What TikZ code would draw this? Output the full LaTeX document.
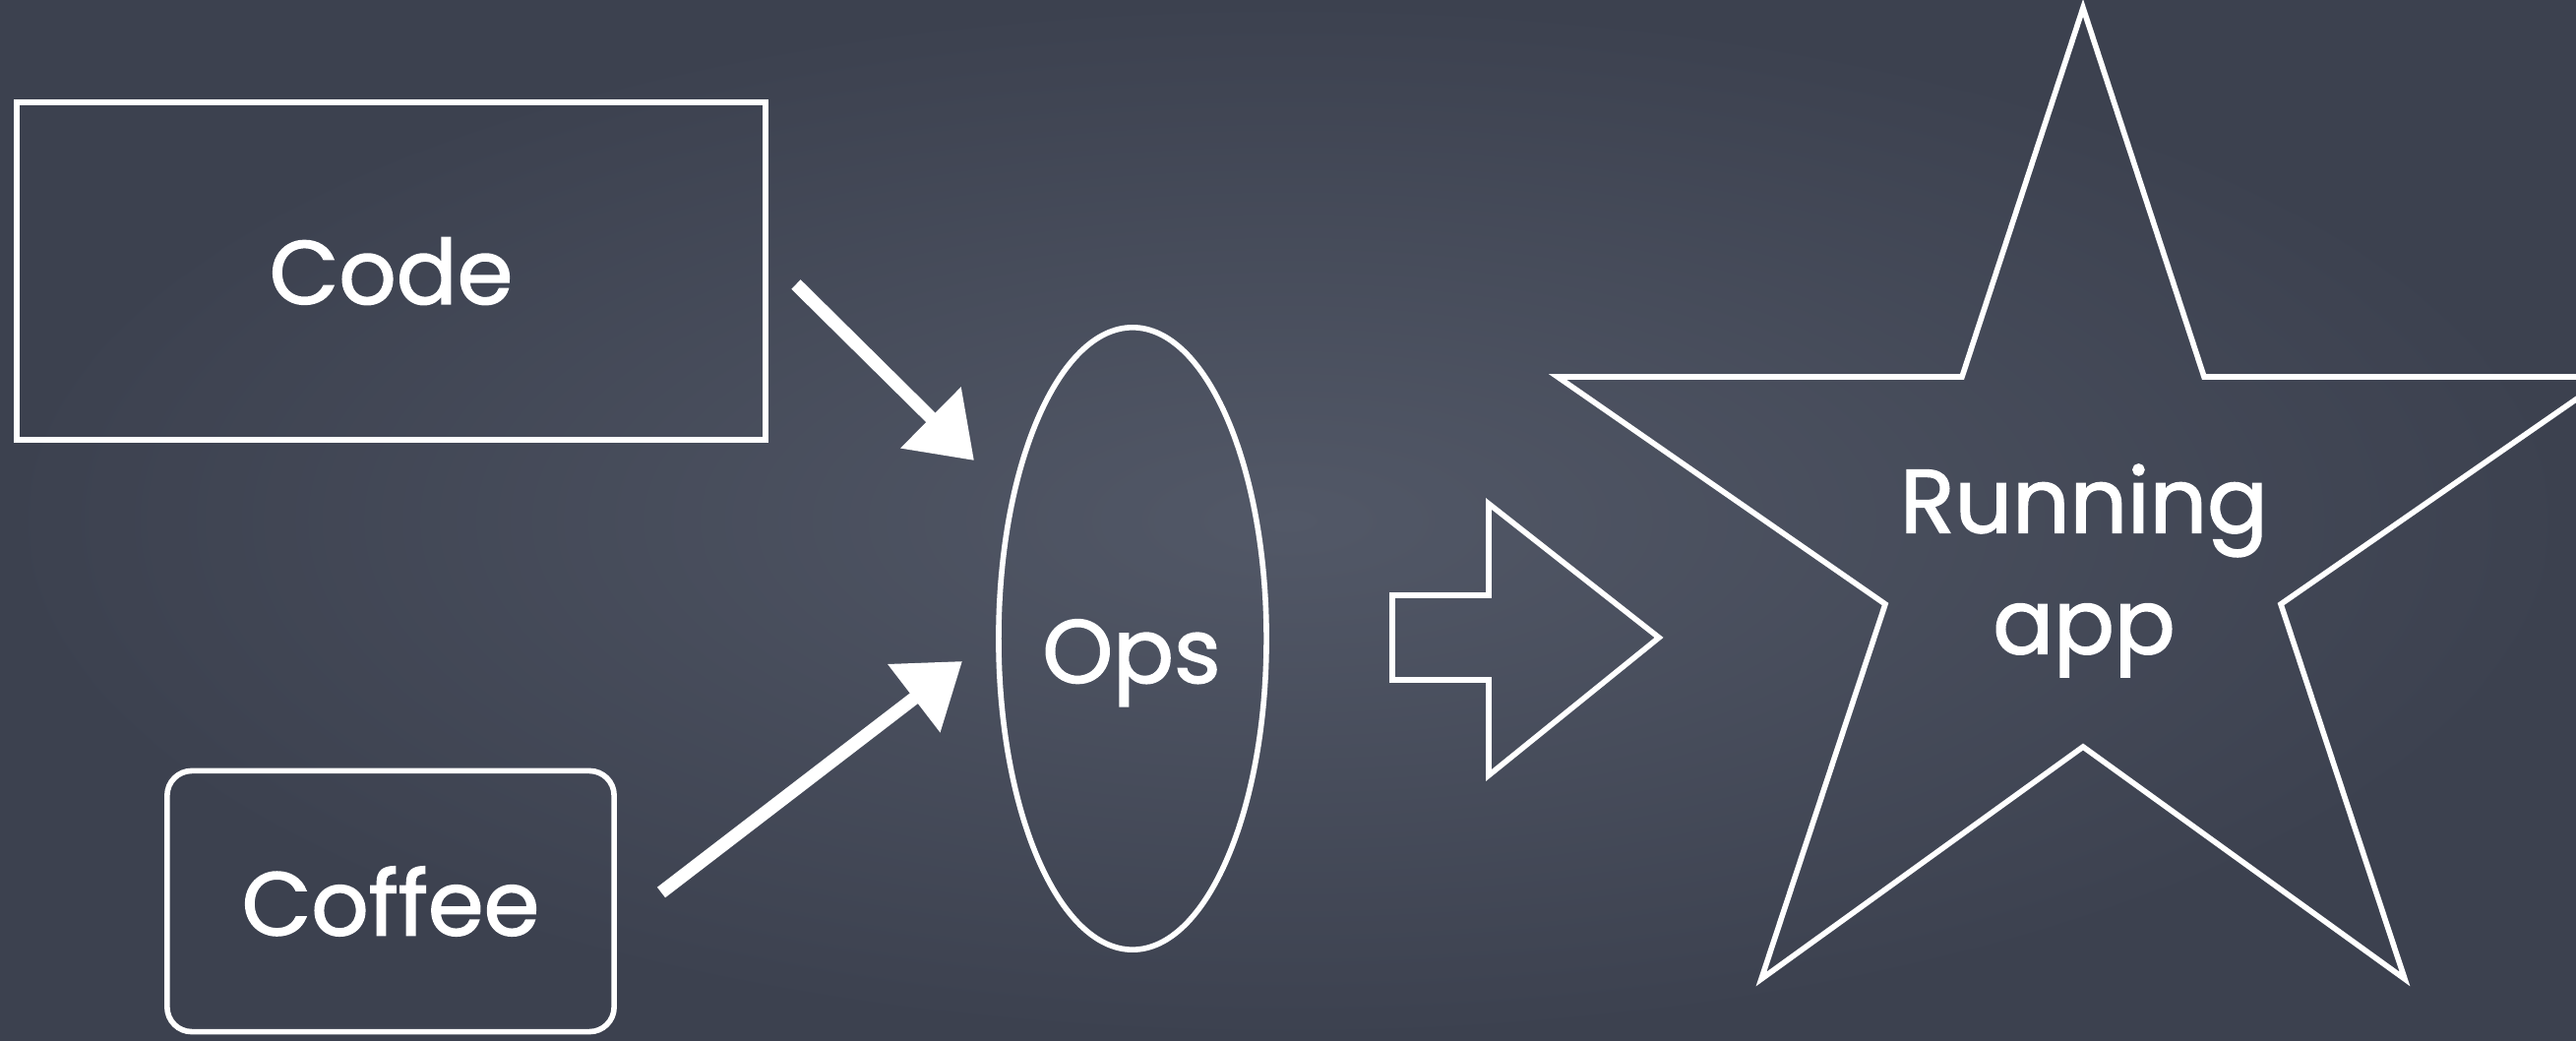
\documentclass[tikz,border=0pt]{standalone}
\usepackage{fontspec}
\setmainfont{Poppins}
\newfontfamily\chalkfont{Poppins}[FakeBold=1.6]
\usetikzlibrary{shapes.geometric, arrows.meta}
\definecolor{bgin}{RGB}{82,88,103}
\definecolor{bgout}{RGB}{60,65,79}
\begin{document}
\begin{tikzpicture}[x=0.01cm, y=-0.01cm,
  chalk/.style={draw=white, line width=1.6pt},
  lbl/.style={text=white, font=\chalkfont\fontsize{26}{35}\selectfont, inner sep=0pt},
  chalkarrow/.style={draw=white, line width=3.8pt, -{Triangle[width=0.84cm, length=0.62cm]}},
]
\useasboundingbox (0,0) rectangle (2618,1058);
\clip (0,0) rectangle (2618,1058);
\shade[inner color=bgin, outer color=bgout] (0,0) rectangle (2618,1058);

% boxes
\node[chalk, rectangle, minimum width=7.61cm, minimum height=3.43cm, lbl] (code) at (397.5,275.5) {Code};
\node[chalk, rectangle, rounded corners=0.25cm, minimum width=4.54cm, minimum height=2.65cm, lbl] (coffee) at (397,916) {Coffee};
\node[chalk, ellipse, minimum width=2.72cm, minimum height=6.32cm, inner sep=0pt] (ops) at (1151,649) {};
\node[lbl, anchor=base] (opstext) at (1150,694) {Ops};

% arrows
\coordinate (a1s) at (809,289);
\coordinate (a1e) at (990,468);
\draw[chalkarrow] (a1s) -- (a1e);
\coordinate (a2s) at (672,907);
\coordinate (a2e) at (978,672);
\draw[chalkarrow] (a2s) -- (a2e);

% hollow arrow
\draw[chalk] (1415,605) -- (1513,605) -- (1513,512) -- (1686,648) -- (1513,788) -- (1513,691) -- (1415,691) -- cycle;

% star
\draw[chalk] (2117,8) -- (2240,383) -- (2651,383) -- (2318,614) -- (2444,995) -- (2117,759) -- (1790,995) -- (1916,614) -- (1583,383) -- (1994,383) -- cycle;
\node[lbl, align=center] (run) at (2118,580) {Running\\app};
\end{tikzpicture}
\end{document}
